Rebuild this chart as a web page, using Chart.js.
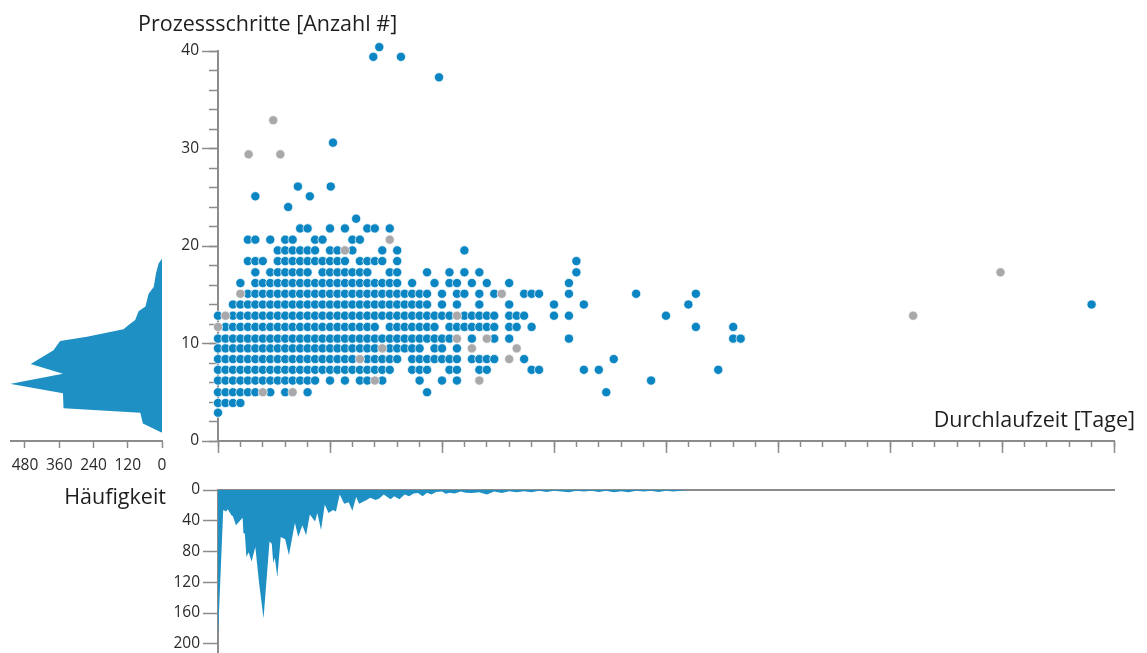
<!DOCTYPE html>
<html lang="de">
<head>
<meta charset="utf-8">
<title>Prozessschritte und Durchlaufzeit</title>
<script src="https://cdn.jsdelivr.net/npm/chart.js@4/dist/chart.umd.min.js"></script>
<style>
  html, body { margin: 0; padding: 0; background: #fff; }
  #wrap { position: relative; width: 1147px; height: 653px; overflow: hidden; }
  #wrap canvas { position: absolute; left: 0; top: 0; }
</style>
</head>
<body>
<div id="wrap">
  <canvas id="stepsHist" width="1147" height="653"></canvas>
  <canvas id="daysHist" width="1147" height="680"></canvas>
  <canvas id="scatter" width="1147" height="653"></canvas>
</div>
<script>
const BLUE = '#0b86c3';
const FILL = '#1f90c4';
const GRAY = '#a9a9ab';
const AXIS = '#8c8c8c';
const TEXT = '#1e1e1e';
const TICK_TEXT = '#2a2a2a';

// scatter: one string per step level, one character per day
// '#' = blue case, 'o' = gray case, '.' = nothing (spaces just group 10 days)
const rowSteps = [2.9, 3.9, 5.0, 6.2, 7.3, 8.4, 9.5, 10.5, 11.7, 12.85, 14.0, 15.1, 16.2, 17.3, 18.45, 19.55, 20.65, 21.8];
const rowMarks = [
  '#',
  '####',
  '######o#.# o.#....... ........#. .......... .......... ..#',
  '########## ####.#.#.# #o#....#.. #.#..o.... .......... ........#.',
  '########## ########## ####..###. .##..##... ..##.....# .#........ .......#..',
  '########## #########o #####.#### ###.####.o .#........ ...#',
  '########## ########## ##o#####.# #.#.o..... o',
  '########## ########## ########## ##o.#.o#.# .......#.. .......... .........# #',
  'o######### ########## ##.####### .#######.# #.#....... .......... ....#....#',
  '#o######## ########## ########## ##o#####.# ##...#.#.. .......... #',
  '..######## ########## #########. #.#..#...# .....#...# .......... ...#',
  '...o###### ########## #########. #.##.#.#o. .###...#.. ......#... ....#',
  '...#.##### ########## #####.#..# .##.#.#..# .......#',
  '.....#.### ###.###### #..##...#. .#.#.#.... ........#',
  '....###.## ########.# ###.#..... .......... ........#',
  '........## ####.##o#. ..#.#..... ...#',
  '....##.#.# #..##...## ...o',
  '.......... .##..#.#.. ##.#'
];

// single cases away from the grid
const sparseBlueDays  = [18.5, 9.4, 5.0, 12.3, 10.7, 15.1, 15.4, 29.6, 20.8, 24.5, 21.6, 117];
const sparseBlueSteps = [22.8, 24.0, 25.1, 25.1, 26.1, 26.1, 30.6, 37.3, 39.4, 39.4, 40.4, 14.0];
const sparseGrayDays  = [4.1, 8.35, 7.4, 93.1, 104.8];
const sparseGraySteps = [29.4, 29.4, 32.9, 12.85, 17.3];

// Häufigkeit über Prozessschritte (links)
const stepLevels = [0.85, 1.8, 2.9, 3.35, 4.9, 5.85, 6.9, 7.9, 9.3, 10.26, 10.7, 11.45, 11.9, 12.4, 13.3, 13.8, 15.1, 15.8, 17.2, 18.2, 18.7];
const stepCounts = [0, 67, 76, 345, 347, 532, 347, 460, 380, 357, 263, 135, 117, 94, 82, 58, 47, 29, 21, 12, 0];

// Häufigkeit über Durchlaufzeit (unten)
const dayLevels = [
  0, 0.7, 1.1, 1.3, 1.8, 2.0, 2.4, 3.3, 3.4, 3.6,
  3.8, 4.1, 4.5, 5.0, 5.5, 6.1, 6.9, 7.2, 7.4, 7.6,
  7.95, 8.4, 9.0, 9.5, 10.3, 10.75, 11.3, 11.8, 12.3, 13.0,
  13.3, 13.8, 14.3, 14.8, 15.4, 15.8, 16.3, 16.9, 17.5, 18.0,
  18.5, 18.9, 19.9, 20.4, 21.1, 21.6, 22.2, 23.1, 23.6, 24.3,
  25.0, 25.6, 26.2, 26.8, 27.4, 28.0, 28.6, 29.2, 30.0, 30.5,
  31.0, 31.7, 32.5, 33.2, 34, 35, 36, 37, 38, 39,
  40, 41, 42, 43, 44, 45, 46, 47, 48, 49,
  50, 51, 52, 53, 54, 55, 56, 57, 58, 59,
  60, 61, 62, 63
];
const dayCounts = [
  190, 26, 28, 25, 33, 34, 46, 36, 56, 57,
  87, 81, 93, 74, 121, 167, 67, 70, 95, 88,
  113, 61, 64, 85, 43, 61, 46, 59, 32, 41,
  30, 52, 19, 30, 26, 28, 6, 18, 16, 27,
  9, 18, 13, 10, 13, 11, 6, 12, 8, 12,
  6, 8, 4.5, 4, 8, 3.5, 6, 2.5, 2, 5,
  3.5, 4.5, 2, 3.5, 4, 3, 6, 2, 4, 1.5,
  3, 1.5, 3, 1, 2.5, 1, 2, 3, 1, 2,
  1, 2.5, 1, 3, 1.5, 3, 1, 2, 1, 2.5,
  1, 2, 1, 0
];

// tick labels
const stepTicks = [0, 10, 20, 30, 40];
const leftCountTicks = [0, 120, 240, 360, 480];
const bottomCountTicks = [0, 40, 80, 120, 160, 200];

Chart.defaults.font.family = '"Open Sans", "Noto Sans", sans-serif';
Chart.defaults.color = TICK_TEXT;
Chart.defaults.animation = false;
Chart.defaults.plugins.legend.display = false;
Chart.defaults.plugins.tooltip.enabled = false;

function tickMarks(len) {
  return { drawOnChartArea: false, tickLength: len, tickColor: AXIS, tickWidth: 1.5 };
}
function fixedTicks(values) {
  return (scale) => { scale.ticks = values.map((v) => ({ value: v })); };
}

function pointsFor(mark) {
  const pts = [];
  rowMarks.forEach((row, r) => {
    [...row.replace(/ /g, '')].forEach((c, day) => {
      if (c === mark) pts.push({ x: day, y: rowSteps[r] });
    });
  });
  return pts;
}

const bluePoints = pointsFor('#').concat(sparseBlueDays.map((d, i) => ({ x: d, y: sparseBlueSteps[i] })));
const grayPoints = pointsFor('o').concat(sparseGrayDays.map((d, i) => ({ x: d, y: sparseGraySteps[i] })));

// draws a text label relative to the chart area
function labelPlugin(items) {
  return {
    id: 'labels',
    afterDraw(chart) {
      const { ctx, chartArea } = chart;
      ctx.save();
      ctx.fillStyle = TEXT;
      ctx.font = '21.5px "Open Sans", "Noto Sans", sans-serif';
      ctx.textBaseline = 'alphabetic';
      items.forEach((it) => {
        ctx.textAlign = it.align;
        ctx.fillText(it.text, chartArea[it.fromX] + it.dx, chartArea[it.fromY] + it.dy);
      });
      ctx.restore();
    },
  };
}

const dotStyle = { pointRadius: 4.6, borderWidth: 0.7, borderColor: '#ffffff', clip: false };

new Chart(document.getElementById('scatter'), {
  type: 'scatter',
  data: {
    datasets: [
      { data: grayPoints, backgroundColor: GRAY, ...dotStyle },
      { data: bluePoints, backgroundColor: BLUE, ...dotStyle },
    ],
  },
  options: {
    responsive: false,
    layout: { padding: { left: 178, right: 33, top: 51, bottom: 212 } },
    scales: {
      x: {
        type: 'linear', position: 'bottom', min: 0, max: 120, weight: 0,
        ticks: { display: false, stepSize: 3 },
        grid: tickMarks(6),
        border: { color: AXIS, width: 2 },
        afterFit: (s) => { s.height = 0; },
      },
      xMajor: {
        type: 'linear', position: 'bottom', min: 0, max: 120, weight: 1,
        ticks: { display: false, stepSize: 15 },
        grid: tickMarks(12),
        border: { display: false },
        afterFit: (s) => { s.height = 0; },
      },
      y: {
        type: 'linear', position: 'left', min: 0, max: 40, weight: 0,
        ticks: { display: false, stepSize: 2 },
        grid: tickMarks(9),
        border: { color: AXIS, width: 2 },
        afterFit: (s) => { s.width = 0; },
      },
      yMajor: {
        type: 'linear', position: 'left', min: 0, max: 40, weight: 1,
        afterBuildTicks: fixedTicks(stepTicks),
        ticks: { font: { size: 15.5 }, color: TICK_TEXT, padding: 3 },
        grid: tickMarks(16),
        border: { display: false },
        afterFit: (s) => { s.width = 40; },
      },
    },
  },
  plugins: [labelPlugin([
    { text: 'Prozessschritte [Anzahl #]', align: 'left', fromX: 'left', dx: -80, fromY: 'top', dy: -20 },
    { text: 'Durchlaufzeit [Tage]', align: 'right', fromX: 'right', dx: 21, fromY: 'bottom', dy: -14 },
  ])],
});

new Chart(document.getElementById('stepsHist'), {
  type: 'line',
  data: {
    datasets: [{
      data: stepLevels.map((s, i) => ({ x: stepCounts[i], y: s })),
      fill: 'origin', backgroundColor: FILL, borderWidth: 0, pointRadius: 0, tension: 0, clip: false,
    }],
  },
  options: {
    responsive: false,
    indexAxis: 'y',
    layout: { padding: { left: 11, right: 985, top: 51, bottom: 182 } },
    scales: {
      x: {
        type: 'linear', position: 'bottom', reverse: true, min: 0, max: 529,
        afterBuildTicks: fixedTicks(leftCountTicks),
        ticks: { font: { size: 15.5 }, color: TICK_TEXT, padding: 8, maxRotation: 0 },
        grid: tickMarks(7),
        border: { color: AXIS, width: 2 },
        afterFit: (s) => { s.height = 30; },
      },
      y: { type: 'linear', min: 0, max: 40, display: false },
    },
  },
  plugins: [labelPlugin([
    { text: 'Häufigkeit', align: 'right', fromX: 'right', dx: 4, fromY: 'bottom', dy: 63 },
  ])],
});

new Chart(document.getElementById('daysHist'), {
  type: 'line',
  data: {
    datasets: [{
      data: dayLevels.map((d, i) => ({ x: d, y: dayCounts[i] })),
      fill: 'origin', backgroundColor: FILL, borderWidth: 0, pointRadius: 0, tension: 0,
    }],
  },
  options: {
    responsive: false,
    layout: { padding: { left: 168, right: 33, top: 490, bottom: 27 } },
    scales: {
      x: {
        type: 'linear', position: 'top', min: 0, max: 120,
        ticks: { display: false },
        grid: { drawOnChartArea: false, drawTicks: false },
        border: { color: AXIS, width: 2 },
        afterFit: (s) => { s.height = 0; },
      },
      y: {
        type: 'linear', position: 'left', reverse: true, min: 0, max: 212,
        afterBuildTicks: fixedTicks(bottomCountTicks),
        ticks: { font: { size: 15.5 }, color: TICK_TEXT, padding: 3 },
        grid: tickMarks(15),
        border: { color: AXIS, width: 2 },
        afterFit: (s) => { s.width = 50; },
      },
    },
  },
});
</script>
</body>
</html>
